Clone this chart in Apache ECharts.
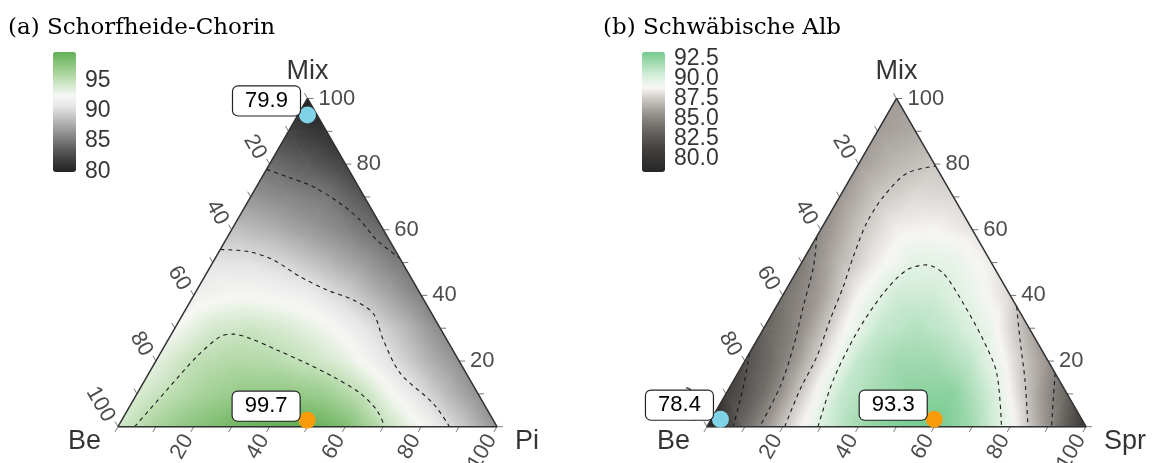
<!DOCTYPE html>
<html><head><meta charset="utf-8">
<script src="https://cdn.jsdelivr.net/npm/echarts@6.0.0/dist/echarts.min.js"></script>
<style>html,body{margin:0;padding:0;background:#fff;}#c{width:1154px;height:463px;}</style>
</head><body><div id="c"></div>
<script>
// ---------------- data ----------------
const titles = ['(a) Schorfheide-Chorin', '(b) Schwäbische Alb'];
const vertexNamesA = ['Be', 'Pi', 'Mix'];
const vertexNamesB = ['Be', 'Spr', 'Mix'];
const tickValues = [0, 10, 20, 30, 40, 50, 60, 70, 80, 90, 100];
const tickLabelValues = [20, 40, 60, 80, 100];

const rangeA = [79.9, 99.7];
const rangeB = [78.4, 93.3];
const legendTicksA = [80, 85, 90, 95];
const legendTicksB = [80, 82.5, 85, 87.5, 90, 92.5];

// surface values, rows = Mix 0..100 step 10, columns = Pi (Spr) 0.. step 10
const surfaceA = [
  [94.2, 96.3, 97.8, 98.9, 99.5, 99.7, 98.4, 95.2, 92.4, 89.4, 86.5],
  [94.0, 95.4, 96.6, 97.3, 97.4, 96.8, 94.8, 91.7, 88.9, 86.4],
  [93.4, 95.1, 95.8, 95.6, 94.8, 93.5, 91.0, 88.5, 86.3],
  [92.6, 94.2, 94.6, 94.0, 92.8, 90.8, 88.5, 86.0],
  [91.6, 92.4, 92.2, 91.4, 89.7, 87.6, 85.6],
  [90.6, 90.5, 89.7, 88.3, 86.8, 85.1],
  [88.8, 88.0, 86.9, 85.7, 84.2],
  [86.6, 85.8, 85.1, 83.3],
  [84.6, 83.6, 82.3],
  [82.2, 81.1],
  [79.8]
];
const surfaceB = [
  [78.0, 83.8, 87.3, 90.2, 92.0, 93.0, 93.3, 92.0, 89.3, 85.4, 80.5],
  [81.2, 84.0, 87.6, 90.8, 91.9, 92.6, 92.6, 90.5, 87.0, 83.5],
  [82.2, 84.7, 88.0, 91.0, 92.0, 92.0, 91.0, 88.4, 85.6],
  [83.3, 85.4, 88.4, 90.8, 91.4, 90.8, 89.3, 86.5],
  [84.2, 86.0, 88.8, 90.6, 90.6, 89.5, 87.9],
  [84.6, 86.9, 88.6, 89.8, 89.6, 88.5],
  [85.3, 87.3, 88.6, 88.8, 88.3],
  [85.8, 87.4, 88.0, 87.9],
  [86.0, 86.9, 87.4],
  [86.0, 86.4],
  [86.0]
];

// contour lines as [Pi (Spr) %, Mix %]
const contourA85 = [[0, 78.4], [6.4, 76.2], [15, 73.1], [24.5, 68.1], [32.3, 63], [39.8, 56.9], [48.7, 51.3]];
const contourA90 = [[0, 54], [8.2, 53.3], [15.6, 50.8], [25.2, 45.7], [34.2, 41.7], [42.8, 38.6], [50.1, 34.5], [56.8, 26.4], [66.3, 16.3], [79.6, 7.1], [87.5, 0]];
const contourA95 = [[4.4, 0], [7.3, 11.2], [10.1, 21.3], [13.2, 27.4], [16.3, 28.2], [21.4, 26.9], [30.2, 23.4], [40.1, 19.3], [49.2, 15.2], [58.8, 10.2], [65.7, 5.1], [70.4, 0]];

const contourB90 = [[29.3, 0], [26.2, 14.2], [25.2, 28.5], [26.2, 40.6], [28.8, 47.7], [33.3, 49.3], [39, 46.7], [48.8, 37.6], [59.7, 26.4], [68.3, 16.3], [77.7, 0]];
const contourB875a = [[20.5, 0], [18.9, 11.2], [18.3, 21.3], [16.2, 32.5], [14.6, 42.7], [12.7, 51.8], [11.1, 62], [11.5, 70.1], [14.1, 77.2], [20.6, 79.4]];
const contourB875b = [[63.4, 36.6], [69.4, 26.4], [76.8, 14.2], [84.7, 0]];
const contourB85a = [[0, 57.9], [3.7, 48.8], [7.1, 36.6], [10.6, 24.4], [13.2, 12.2], [13.9, 0]];
const contourB85b = [[83.7, 16.3], [87.3, 8.1], [90.9, 0]];
const contourB825 = [[0, 22.4], [3.5, 12.2], [6.9, 0]];

// labelled points: value, Pi (Spr) %, Mix %
const pointValuesA = [79.9, 99.7];
const pointPiA = [2.5, 48.9];
const pointMixA = [95, 2.0];
const pointValuesB = [78.4, 93.3];
const pointSprB = [2.4, 58.8];
const pointMixB = [2.3, 2.3];

// ---------------- styles ----------------
const colorsA = ['#232323', '#3b3b3b', '#5a5a5a', '#7d7d7d', '#a0a0a0', '#c4c4c4', '#e6e6e6', '#f7f7f5', '#d2e8ca', '#acd5a0', '#88c37a', '#62ae55'];
const colorsB = ['#262626', '#343332', '#45423f', '#5d5a57', '#7a7672', '#9e9995', '#c9c5c1', '#f7f6f4', '#d8efdd', '#a7dcb4', '#74ca8e'];
const pointColors = ['#80d3e6', '#fa9c0a'];
const SANS = 'Liberation Sans';

// ---------------- helpers ----------------
const H = Math.sqrt(3) / 2;
function tern(pi, mix) { return [pi + mix / 2, mix * H]; }

function triangles(grid) {
  const out = [];
  const n = grid.length - 1;
  const step = 100 / n;
  const node = (m, p) => { const c = tern(p * step, m * step); return [c[0], c[1], grid[m][p]]; };
  for (let m = 0; m < n; m++) {
    for (let p = 0; p <= n - m - 1; p++) {
      out.push([...node(m, p), ...node(m, p + 1), ...node(m + 1, p)]);
      if (p <= n - m - 2) out.push([...node(m, p + 1), ...node(m + 1, p + 1), ...node(m + 1, p)]);
    }
  }
  return out;
}

function surfaceRender(colors, range) {
  const col = v => echarts.color.lerp(Math.min(1, Math.max(0, (v - range[0]) / (range[1] - range[0]))), colors);
  return function (params, api) {
    const P = [], V = [];
    for (let k = 0; k < 3; k++) {
      P.push(api.coord([api.value(3 * k), api.value(3 * k + 1)]));
      V.push(api.value(3 * k + 2));
    }
    const d1x = P[1][0] - P[0][0], d1y = P[1][1] - P[0][1];
    const d2x = P[2][0] - P[0][0], d2y = P[2][1] - P[0][1];
    const dv1 = V[1] - V[0], dv2 = V[2] - V[0];
    const det = d1x * d2y - d1y * d2x;
    const gx = (dv1 * d2y - dv2 * d1y) / det;
    const gy = (d1x * dv2 - d2x * dv1) / det;
    const g2 = gx * gx + gy * gy;
    let imin = 0;
    for (let k = 1; k < 3; k++) if (V[k] < V[imin]) imin = k;
    const vmin = V[imin], vmax = Math.max(V[0], V[1], V[2]);
    let fill;
    if (vmax - vmin < 1e-6 || g2 < 1e-12) {
      fill = col(vmin);
    } else {
      const s = P[imin];
      const kk = (vmax - vmin) / g2;
      const stops = [];
      for (let j = 0; j <= 6; j++) {
        const t = j / 6;
        stops.push({ offset: t, color: col(vmin + t * (vmax - vmin)) });
      }
      fill = new echarts.graphic.LinearGradient(s[0], s[1], s[0] + gx * kk, s[1] + gy * kk, stops, true);
    }
    return { type: 'polygon', shape: { points: P }, style: { fill: fill, stroke: fill, lineWidth: 0.8 } };
  };
}

function tickRender(params, api) {
  const t = api.value(0);
  const pb = api.coord(tern(t, 0));
  const pr = api.coord(tern(100 - t, t));
  const pl = api.coord(tern(0, 100 - t));
  const ls = { stroke: '#555', lineWidth: 0.8 };
  const children = [
    { type: 'line', shape: { x1: pb[0], y1: pb[1], x2: pb[0] - 3, y2: pb[1] + 5.2 }, style: ls },
    { type: 'line', shape: { x1: pr[0], y1: pr[1], x2: pr[0] + 6, y2: pr[1] }, style: ls },
    { type: 'line', shape: { x1: pl[0], y1: pl[1], x2: pl[0] - 3, y2: pl[1] - 5.2 }, style: ls }
  ];
  if (tickLabelValues.indexOf(t) >= 0) {
    const ts = { text: String(t), fill: '#4d4d4d', fontSize: 22, fontFamily: SANS, align: 'right', verticalAlign: 'middle' };
    children.push({ type: 'text', x: pb[0] - 5.5, y: pb[1] + 9.5, rotation: Math.PI / 3, style: ts });
    children.push({ type: 'text', x: pl[0] - 8.5, y: pl[1] - 6.5, rotation: -Math.PI / 3, style: ts });
    children.push({ type: 'text', x: pr[0] + 11, y: pr[1], style: Object.assign({}, ts, { align: 'left' }) });
  }
  return { type: 'group', children: children };
}

function contourSeries(idx, pts) {
  return {
    type: 'line', xAxisIndex: idx, yAxisIndex: idx, clip: false,
    data: pts.map(p => tern(p[0], p[1])),
    symbol: 'none', smooth: 0.3, z: 4, silent: true,
    lineStyle: { type: [4, 4], width: 1.1, color: '#1a1a1a' }
  };
}

function pointSeries(idx, values, pis, mixes) {
  return {
    type: 'scatter', xAxisIndex: idx, yAxisIndex: idx, clip: false, z: 10,
    symbolSize: 17,
    data: values.map((v, i) => ({ value: tern(pis[i], mixes[i]), itemStyle: { color: pointColors[i], opacity: 1 } })),
    label: {
      show: true, position: 'inside', offset: [-41, -14],
      formatter: p => values[p.dataIndex].toFixed(1),
      fontSize: 22, fontFamily: SANS, color: '#000',
      backgroundColor: '#fff', borderColor: '#222', borderWidth: 1.2, borderRadius: 5,
      padding: [3, 12, 2, 12], lineHeight: 24
    }
  };
}

function vertexSeries(idx, names) {
  const corners = [tern(0, 0), tern(100, 0), tern(0, 100)];
  const labels = [
    { position: 'left', distance: 17, offset: [0, 15] },
    { position: 'right', distance: 18, offset: [0, 15] },
    { position: 'top', distance: 13, offset: [0, 0] }
  ];
  return {
    type: 'scatter', xAxisIndex: idx, yAxisIndex: idx, clip: false, symbolSize: 0, silent: true,
    data: names.map((n, i) => ({
      value: corners[i], name: n,
      label: Object.assign({ show: true, formatter: n, fontSize: 27, fontFamily: SANS, color: '#000' }, labels[i])
    }))
  };
}

function outlineSeries(idx) {
  return {
    type: 'line', xAxisIndex: idx, yAxisIndex: idx, clip: false, symbol: 'none', z: 6, silent: true,
    data: [tern(0, 0), tern(100, 0), tern(0, 100), tern(0, 0)],
    lineStyle: { color: '#333', width: 1.5 }
  };
}

function legendLabelSeries(gi, ticks, digits) {
  return {
    type: 'scatter', xAxisIndex: gi, yAxisIndex: 2 * gi - 2, clip: false, symbolSize: 0, silent: true, z: 5,
    data: ticks.map(v => [1, v]),
    label: {
      show: true, position: 'right', distance: 9,
      formatter: p => Number(p.value[1]).toFixed(digits),
      fontSize: 23, fontFamily: SANS, color: '#000'
    }
  };
}

const SIDE = 379, BASE = 426.7;
const TH = SIDE * H;
const dims9 = ['x0', 'y0', 'v0', 'x1', 'y1', 'v1', 'x2', 'y2', 'v2'];

function legendAxes(gi, range, ticks) {
  return [
    {
      gridIndex: gi, type: 'value', min: range[0], max: range[1], position: 'right',
      axisLine: { show: false }, splitLine: { show: false },
      axisTick: { show: true, inside: true, length: 4, customValues: ticks, lineStyle: { color: '#fff', width: 1 } },
      axisLabel: { show: false }
    },
    {
      gridIndex: gi, type: 'value', min: range[0], max: range[1], position: 'left',
      axisLine: { show: false }, splitLine: { show: false },
      axisTick: { show: true, inside: true, length: 4, customValues: ticks, lineStyle: { color: '#fff', width: 1 } },
      axisLabel: { show: false }
    }
  ];
}

const chart = echarts.init(document.getElementById('c'), null, { renderer: 'canvas' });
const titleStyle = { fontFamily: 'DejaVu Serif', fontSize: 23, fontWeight: 'normal', color: '#000' };
const option = {
  animation: false,
  backgroundColor: '#fff',
  title: [
    { text: titles[0], left: 8, top: 17, padding: 0, textStyle: titleStyle },
    { text: titles[1], left: 603, top: 17, padding: 0, textStyle: titleStyle }
  ],
  grid: [
    { left: 118, top: BASE - TH, width: SIDE, height: TH },
    { left: 707, top: BASE - TH, width: SIDE, height: TH },
    { left: 53, top: 52, width: 23, height: 120 },
    { left: 642, top: 52, width: 23, height: 120 }
  ],
  xAxis: [
    { gridIndex: 0, type: 'value', min: 0, max: 100, show: false },
    { gridIndex: 1, type: 'value', min: 0, max: 100, show: false },
    { gridIndex: 2, type: 'value', min: 0, max: 1, show: false },
    { gridIndex: 3, type: 'value', min: 0, max: 1, show: false }
  ],
  yAxis: [
    { gridIndex: 0, type: 'value', min: 0, max: 100 * H, show: false },
    { gridIndex: 1, type: 'value', min: 0, max: 100 * H, show: false },
    ...legendAxes(2, rangeA, legendTicksA),
    ...legendAxes(3, rangeB, legendTicksB)
  ],
  visualMap: [
    { type: 'continuous', min: rangeA[0], max: rangeA[1], seriesIndex: 0, dimension: 2, left: 53, top: 52, itemWidth: 23, itemHeight: 120, padding: 0, calculable: false, text: null, showLabel: false, inRange: { color: colorsA }, z: 1 },
    { type: 'continuous', min: rangeB[0], max: rangeB[1], seriesIndex: 1, dimension: 2, left: 642, top: 52, itemWidth: 23, itemHeight: 120, padding: 0, calculable: false, text: null, showLabel: false, inRange: { color: colorsB }, z: 1 }
  ],
  series: [
    { type: 'custom', xAxisIndex: 0, yAxisIndex: 0, clip: false, silent: true, dimensions: dims9, encode: { x: [0, 3, 6], y: [1, 4, 7] }, data: triangles(surfaceA), renderItem: surfaceRender(colorsA, rangeA), z: 2 },
    { type: 'custom', xAxisIndex: 1, yAxisIndex: 1, clip: false, silent: true, dimensions: dims9, encode: { x: [0, 3, 6], y: [1, 4, 7] }, data: triangles(surfaceB), renderItem: surfaceRender(colorsB, rangeB), z: 2 },
    outlineSeries(0),
    outlineSeries(1),
    contourSeries(0, contourA85),
    contourSeries(0, contourA90),
    contourSeries(0, contourA95),
    contourSeries(1, contourB90),
    contourSeries(1, contourB875a),
    contourSeries(1, contourB875b),
    contourSeries(1, contourB85a),
    contourSeries(1, contourB85b),
    contourSeries(1, contourB825),
    { type: 'custom', xAxisIndex: 0, yAxisIndex: 0, clip: false, silent: true, data: tickValues.map(t => [t, 0]), renderItem: tickRender, z: 5 },
    { type: 'custom', xAxisIndex: 1, yAxisIndex: 1, clip: false, silent: true, data: tickValues.map(t => [t, 0]), renderItem: tickRender, z: 5 },
    vertexSeries(0, vertexNamesA),
    vertexSeries(1, vertexNamesB),
    pointSeries(0, pointValuesA, pointPiA, pointMixA),
    pointSeries(1, pointValuesB, pointSprB, pointMixB),
    legendLabelSeries(2, legendTicksA, 0),
    legendLabelSeries(3, legendTicksB, 1)
  ]
};
chart.setOption(option);
</script>
</body></html>
